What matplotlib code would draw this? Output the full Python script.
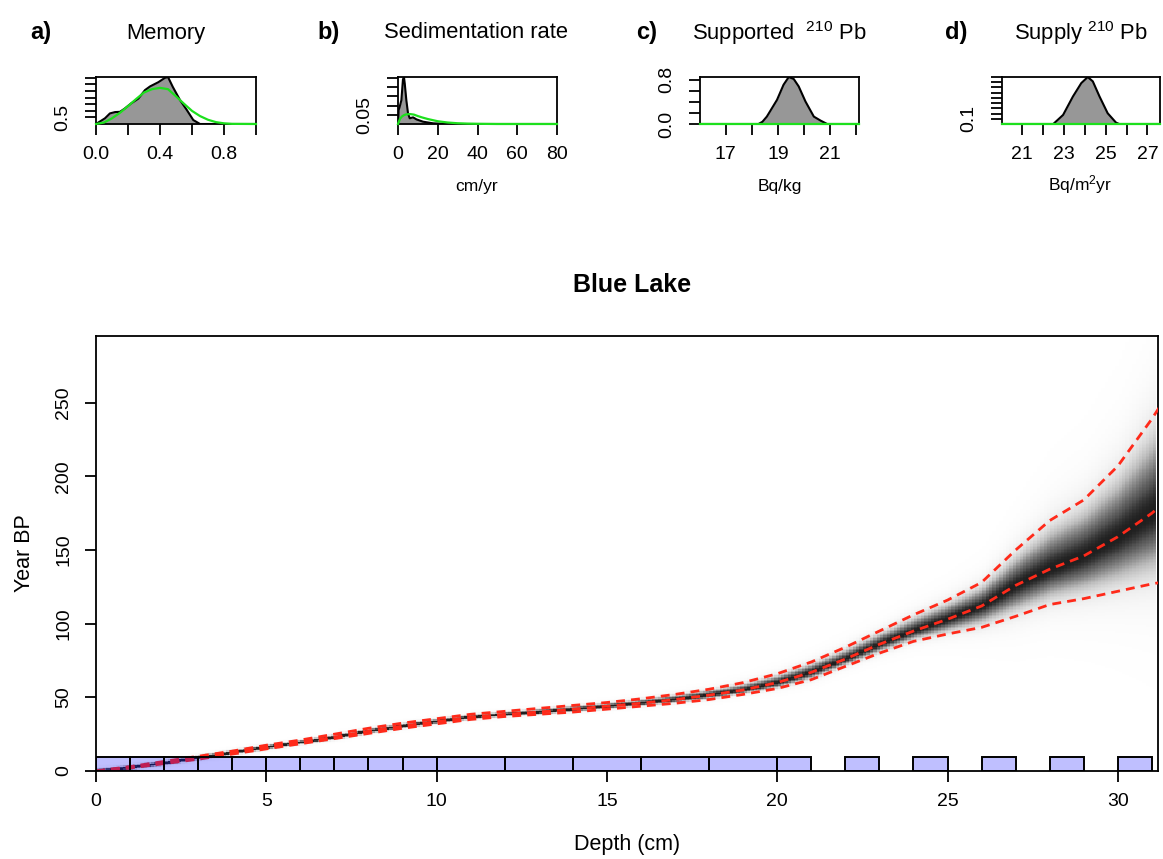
import numpy as np
import matplotlib.pyplot as plt

plt.rcParams['font.family'] = ['Liberation Sans', 'DejaVu Sans']
plt.rcParams['mathtext.fontset'] = 'custom'
plt.rcParams['mathtext.rm'] = 'Liberation Sans'
plt.rcParams['mathtext.default'] = 'regular'
plt.rcParams['axes.linewidth'] = 1.3

# age-depth model (cm, yr BP)
depth = [0, 1, 2, 3, 4, 5, 6, 7, 8, 9, 10, 11, 12, 13, 14, 15, 16, 17, 18, 19,
         20, 21, 22, 23, 24, 25, 26, 27, 28, 29, 30, 31, 31.25]
age_mean = [0, 2.5, 5.5, 9, 12.5, 16, 19.5, 23, 27, 30.5, 33.5, 36.5, 38.5, 40, 42, 44,
            46, 48.5, 51.5, 55, 60, 67, 76, 86, 95, 103, 112, 126, 137, 146, 159, 175, 180]
age_upper = [0, 3, 6.5, 10, 13.5, 17.5, 21, 25, 29, 32.5, 35.5, 38.5, 40.5, 42.5, 44.5, 46.5,
             49, 52, 55.5, 60, 66, 74, 84, 95, 106, 116, 128, 150, 170, 184, 207, 239, 248]
age_lower = [0, 2, 5, 8, 11.5, 15, 18.5, 22, 25.5, 29, 32, 35, 37, 38.5, 40, 42,
             44, 46, 48.5, 52, 56, 62, 71, 80, 88, 93, 97.5, 105, 113, 117, 122, 127, 128]

# dated slices (cm)
slice_top = [0, 1, 2, 3, 4, 5, 6, 7, 8, 9, 10, 12, 14, 16, 18, 20, 22, 24, 26, 28, 30]
slice_bot = [1, 2, 3, 4, 5, 6, 7, 8, 9, 10, 12, 14, 16, 18, 20, 21, 23, 25, 27, 29, 31]

# a) memory
mem_x = [0.0, 0.056, 0.087, 0.119, 0.15, 0.18, 0.22, 0.265, 0.306, 0.338, 0.39, 0.43,
         0.45, 0.48, 0.525, 0.567, 0.608, 0.65, 1.0]
mem_post = [0, 0.43, 0.8, 0.9, 0.92, 1.17, 1.56, 1.92, 2.56, 2.84, 3.16, 3.48,
            3.55, 2.8, 1.81, 1.07, 0.3, 0, 0]
mem_px = [0, 0.05, 0.1, 0.15, 0.2, 0.25, 0.3, 0.35, 0.4, 0.45, 0.5, 0.55, 0.6, 0.65,
          0.7, 0.75, 0.8, 0.85, 1.0]
mem_prior = [0, 0.11, 0.43, 0.85, 1.35, 1.88, 2.38, 2.63, 2.73, 2.63, 2.09, 1.53, 0.99,
             0.6, 0.32, 0.14, 0.05, 0.01, 0]

# b) sedimentation rate
acc_x = [0, 0.3, 0.84, 1.7, 2.5, 3.0, 3.4, 4.2, 5.05, 5.9, 7.6, 9.3, 12.6, 17.7, 22.7, 30, 80]
acc_post = [0, 0.075, 0.093, 0.129, 0.242, 0.255, 0.219, 0.129, 0.057, 0.031, 0.036,
            0.025, 0.0125, 0.0036, 0.0013, 0, 0]
acc_px = [0, 1, 2, 3, 4, 6, 8, 10, 12, 15, 20, 25, 30, 35, 40, 50, 80]
acc_prior = [0, 0.028, 0.041, 0.048, 0.052, 0.054, 0.051, 0.043, 0.036, 0.027, 0.015,
             0.008, 0.004, 0.002, 0.001, 0, 0]

# c) supported 210Pb
sup_x = [16.0, 18.0, 18.25, 18.4, 18.57, 18.96, 19.21, 19.41, 19.6, 19.79, 20.05, 20.37,
         20.63, 20.88, 22.1]
sup_post = [0, 0, 0, 0.04, 0.134, 0.437, 0.71, 0.85, 0.814, 0.68, 0.407, 0.134, 0.061, 0, 0]
sup_px = [16.0, 22.1]
sup_prior = [0.004, 0.004]

# d) supply 210Pb
phi_x = [20.05, 22.5, 22.97, 23.44, 23.84, 24.15, 24.39, 24.71, 25.1, 25.5, 25.65, 27.6]
phi_post = [0, 0, 0.174, 0.527, 0.784, 0.9, 0.816, 0.527, 0.206, 0.026, 0, 0]
phi_px = [20.05, 27.6]
phi_prior = [0.004, 0.004]

W, H = 1163, 859
fig = plt.figure(figsize=(W / 100, H / 100), dpi=100)


def box(l, t, r, b):
    return [l / W, 1 - b / H, (r - l) / W, (b - t) / H]


def small_panel(rect, x, post, px, prior, xlim, ylim, xticks, xlabels, yticks, ylabels):
    ax = fig.add_axes(rect)
    ax.fill_between(x, post, color='#979797', lw=0)
    ax.plot(x, post, color='black', lw=1.5)
    ax.plot(px, prior, color='#1de01d', lw=1.6, zorder=3, clip_on=False)
    ax.set_xlim(xlim)
    ax.set_ylim(ylim)
    ax.set_xticks(xticks)
    ax.set_xticklabels(xlabels)
    ax.set_yticks(yticks)
    ax.set_yticklabels(ylabels)
    ax.tick_params(length=8, width=1.3, labelsize=14)
    ax.tick_params(axis='x', pad=8)
    ax.tick_params(axis='y', pad=10)
    plt.setp(ax.get_yticklabels(), rotation=90, va='center')
    return ax


small_panel(box(96, 77, 256, 124), mem_x, mem_post, mem_px, mem_prior, (0, 1), (0, 3.55),
            [0, 0.2, 0.4, 0.6, 0.8, 1.0], ['0.0', '', '0.4', '', '0.8', ''],
            [0.5, 1.0, 1.5, 2.0, 2.5, 3.0, 3.5], ['0.5', '', '', '', '', '', ''])
small_panel(box(398, 77, 557, 124), acc_x, acc_post, acc_px, acc_prior, (0, 80), (0, 0.255),
            [0, 20, 40, 60, 80], ['0', '20', '40', '60', '80'],
            [0.05, 0.10, 0.15, 0.20, 0.25], ['0.05', '', '', '', ''])
small_panel(box(700, 77, 859, 124), sup_x, sup_post, sup_px, sup_prior, (16.01, 22.1), (0, 0.85),
            [17, 18, 19, 20, 21, 22], ['17', '', '19', '', '21', ''],
            [0.0, 0.2, 0.4, 0.6, 0.8], ['0.0', '', '', '', '0.8'])
small_panel(box(1002, 77, 1160, 124), phi_x, phi_post, phi_px, phi_prior, (20.05, 27.6), (0, 0.9),
            [21, 22, 23, 24, 25, 26, 27], ['21', '', '23', '', '25', '', '27'],
            [0.1, 0.2, 0.3, 0.4, 0.5, 0.6, 0.7, 0.8, 0.9], ['0.1'] + [''] * 8)

# panel headings
for xl, lab, xt, title in [(41, 'a)', 166, 'Memory'),
                           (329, 'b)', 476, 'Sedimentation rate'),
                           (647, 'c)', 779, r'Supported  $^{210}$ Pb'),
                           (956, 'd)', 1081, r'Supply $^{210}$ Pb')]:
    fig.text(xl / W, 1 - 33 / H, lab, fontsize=17, fontweight='bold', ha='center', va='center')
    fig.text(xt / W, 1 - 33 / H, title, fontsize=15.8, ha='center', va='center')

fig.text(477 / W, 1 - 187 / H, 'cm/yr', fontsize=12.5, ha='center', va='center')
fig.text(780 / W, 1 - 187 / H, 'Bq/kg', fontsize=12.5, ha='center', va='center')
fig.text(1080 / W, 1 - 185 / H, r'Bq/m$^2$yr', fontsize=12.5, ha='center', va='center')

# main age-depth plot
ax = fig.add_axes(box(96, 336, 1158, 771))

dgrid = np.arange(0.05, 31.1, 0.1)
agrid = np.arange(0.5, 300, 1.0)
m = np.interp(dgrid, depth, age_mean)
lo = np.interp(dgrid, depth, age_lower)
up = np.interp(dgrid, depth, age_upper)
su = np.maximum((up - m) / 2.0, 0.9)
sl = np.maximum((m - lo) / 2.0, 0.9)
A = agrid[:, None]
z = np.where(A > m, (A - m) / su, (A - m) / sl)
dens = np.exp(-0.5 * z ** 2) + 0.1 * np.exp(-0.5 * (z / 2.0) ** 2)
dens = dens / dens.max(axis=0)
ax.imshow(dens, origin='lower', extent=[0, 31.1, 0, 300], cmap='Greys', vmin=0, vmax=1.12,
          aspect='auto', interpolation='nearest', zorder=1)

for curve in (age_upper, age_mean, age_lower):
    ax.plot(depth, curve, color='#ff2a1a', lw=2.0, dashes=(3.2, 2.2), zorder=3)

ax.bar(slice_top, 9.5, width=np.subtract(slice_bot, slice_top), bottom=0, align='edge',
       color=(0, 0, 1, 0.25), edgecolor='black', linewidth=1.4, zorder=4)

ax.set_xlim(0, 31.18)
ax.set_ylim(0, 295.3)
ax.set_xticks([0, 5, 10, 15, 20, 25, 30])
ax.set_yticks([0, 50, 100, 150, 200, 250])
ax.tick_params(length=8, width=1.3, labelsize=14)
ax.tick_params(axis='x', pad=8)
ax.tick_params(axis='y', pad=9)
plt.setp(ax.get_yticklabels(), rotation=90, va='center')

ax.set_xlabel('Depth (cm)', fontsize=15.5)
ax.xaxis.set_label_coords(0.5, -0.17)
ax.xaxis.label.set_va('center')
ax.set_ylabel('Year BP', fontsize=15.5)
ax.yaxis.set_label_coords(-0.067, 0.5)
ax.yaxis.label.set_va('center')

fig.text(632 / W, 1 - 285 / H, 'Blue Lake', fontsize=18, fontweight='bold',
         ha='center', va='center')

fig.savefig('out.png', dpi=100)
